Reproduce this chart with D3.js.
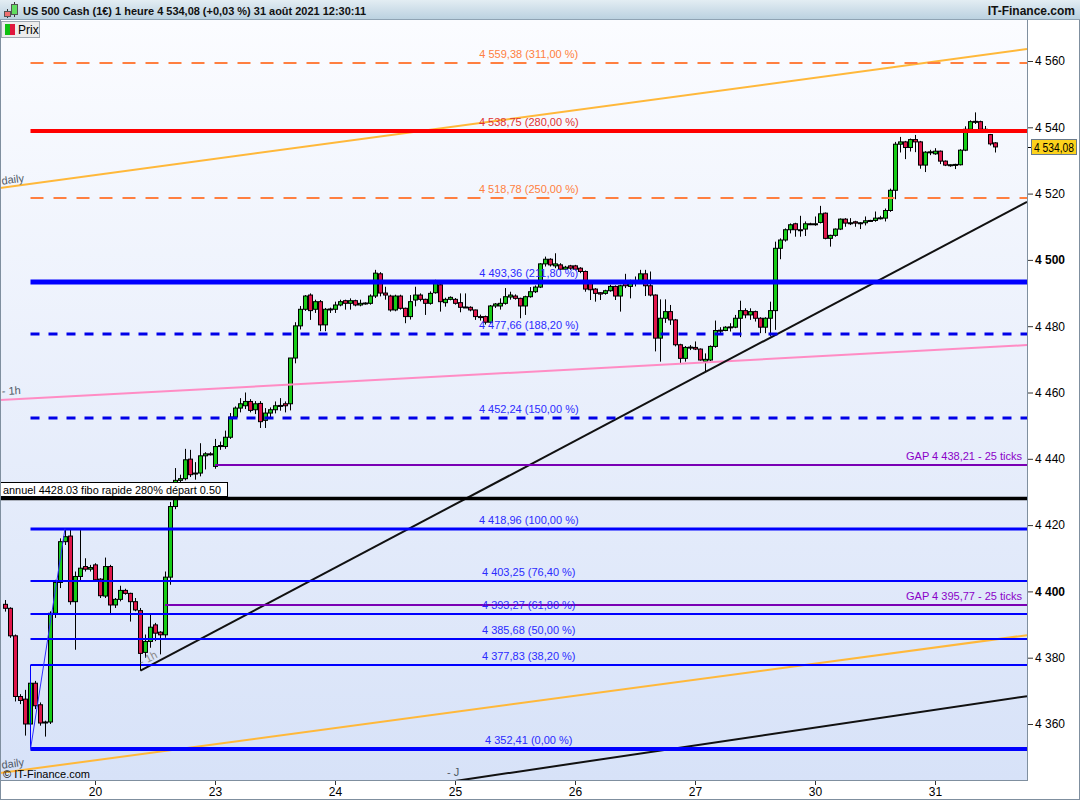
<!DOCTYPE html>
<html><head><meta charset="utf-8">
<script src="https://cdn.jsdelivr.net/npm/d3@7"></script>
<style>body{margin:0;background:#fff;overflow:hidden}svg{display:block;font-family:"Liberation Sans",Arial,sans-serif}</style>
</head><body><svg id="c" width="1080" height="800"></svg>
<script>
// ---------- DATA (hourly candles, US 500 Cash) ----------
const opens=[4396.1,4394.9,4386.6,4368.3,4367.5,4360.0,4372.3,4365.8,4360.3,4360.6,4393.4,4402.7,4415.0,4416.7,4396.9,4404.5,4407.5,4406.7,4408.0,4403.7,
4398.6,4407.5,4395.9,4397.6,4400.3,4399.4,4396.9,4394.2,4381.6,4384.9,4389.9,4387.7,4386.9,4404.3,4425.6,4433.5,4434.0,4439.9,4435.5,4435.7,
4440.9,4441.5,4437.7,4443.7,4443.7,4446.5,4452.6,4455.3,4456.0,4457.3,4454.8,4456.7,4451.6,4453.8,4454.8,4456.0,4456.6,4456.6,4470.4,4480.1,
4485.1,4489.4,4485.1,4487.4,4480.4,4485.1,4485.1,4486.4,4487.7,4486.9,4487.7,4486.4,4486.9,4486.9,4489.1,4495.8,4490.0,4489.1,4484.9,4489.1,
4485.4,4482.9,4487.9,4489.4,4488.1,4486.9,4490.1,4492.5,4487.1,4488.1,4488.1,4487.1,4485.7,4485.7,4484.9,4482.9,4482.9,4481.2,4486.1,4486.1,
4486.9,4488.8,4489.1,4488.4,4486.1,4488.9,4490.4,4491.8,4498.8,4500.2,4498.2,4498.5,4497.2,4498.2,4498.2,4497.5,4496.5,4493.0,4491.2,4490.1,
4489.9,4490.7,4492.0,4489.1,4493.5,4492.0,4493.5,4493.5,4495.8,4492.2,4489.4,4476.4,4482.4,4484.4,4481.9,4474.4,4470.3,4473.6,4473.6,4473.1,
4469.4,4469.8,4473.9,4478.7,4478.7,4479.7,4479.7,4482.4,4484.7,4483.4,4484.4,4482.4,4479.7,4482.4,4484.7,4503.5,4506.0,4509.1,4510.9,4509.1,
4509.3,4510.9,4510.8,4511.3,4514.1,4506.5,4507.4,4509.3,4512.3,4511.1,4511.5,4511.2,4511.2,4511.8,4511.9,4512.6,4512.6,4514.9,4521.0,4534.9,
4535.6,4533.9,4536.3,4535.6,4528.6,4532.5,4532.0,4532.8,4529.8,4528.6,4528.6,4528.7,4533.1,4539.4,4541.7,4541.7,4539.4,4537.8,4535.3];
const highs=[4397.4,4395.2,4387.0,4369.0,4370.3,4374.3,4373.0,4366.5,4361.0,4394.0,4403.5,4416.0,4419.0,4418.6,4406.0,4418.5,4410.0,4408.0,4408.5,4404.0,
4410.2,4408.0,4398.0,4401.7,4400.8,4399.6,4398.0,4395.0,4387.0,4393.0,4390.5,4388.0,4406.0,4427.0,4437.2,4435.2,4443.0,4442.7,4439.0,4444.7,
4442.0,4442.0,4446.0,4445.2,4448.5,4453.8,4455.8,4458.3,4460.0,4458.0,4457.4,4457.4,4455.3,4455.5,4457.3,4458.3,4457.3,4470.4,4481.2,4486.1,
4489.4,4489.9,4488.0,4487.9,4485.5,4485.6,4487.4,4488.0,4488.0,4488.4,4488.0,4488.0,4487.2,4489.6,4497.0,4496.3,4491.9,4489.5,4489.5,4489.5,
4485.6,4489.4,4491.9,4489.9,4488.3,4490.5,4494.0,4493.0,4488.6,4489.0,4488.5,4489.9,4489.9,4486.0,4485.0,4483.5,4483.2,4486.4,4487.0,4488.4,
4491.5,4490.4,4489.6,4488.6,4489.2,4491.8,4492.3,4499.0,4501.0,4500.5,4502.0,4499.0,4498.2,4498.5,4498.5,4497.8,4496.8,4493.3,4491.5,4490.3,
4491.0,4492.5,4492.3,4492.5,4495.8,4494.0,4495.0,4497.0,4497.0,4496.5,4489.6,4488.1,4488.1,4486.4,4482.2,4474.7,4474.0,4474.3,4475.4,4473.3,
4471.8,4474.2,4481.7,4479.7,4480.0,4480.9,4483.4,4487.7,4485.4,4485.4,4484.7,4482.7,4482.7,4487.4,4505.5,4506.5,4509.5,4511.0,4511.2,4513.3,
4511.6,4511.2,4513.1,4516.3,4514.3,4507.6,4509.5,4512.5,4512.6,4512.6,4511.8,4511.4,4513.1,4512.1,4514.6,4513.3,4515.5,4521.5,4535.6,4537.1,
4535.9,4536.6,4537.7,4535.9,4532.8,4533.2,4533.7,4533.0,4530.0,4528.8,4529.0,4533.4,4540.3,4542.1,4544.5,4542.0,4540.4,4538.0,4535.5];
const lows=[4393.9,4386.0,4366.8,4366.0,4356.5,4352.4,4364.5,4359.5,4356.2,4360.0,4392.0,4401.0,4414.0,4396.0,4382.4,4403.0,4406.0,4406.0,4403.0,4398.0,
4398.0,4392.9,4395.0,4397.0,4399.0,4390.9,4394.0,4378.3,4380.0,4383.0,4385.0,4381.0,4386.0,4402.0,4424.8,4431.5,4433.5,4434.5,4433.7,4434.7,
4436.8,4441.0,4437.0,4442.7,4443.0,4446.0,4452.0,4454.0,4455.0,4454.0,4453.5,4449.3,4449.3,4452.0,4453.7,4454.5,4454.0,4454.6,4468.8,4479.0,
4484.6,4481.9,4484.0,4478.5,4478.5,4484.0,4484.0,4486.0,4485.0,4485.0,4486.0,4486.0,4486.5,4486.5,4488.5,4489.0,4488.0,4484.4,4484.5,4485.0,
4480.9,4482.0,4486.0,4487.5,4483.4,4486.5,4489.8,4484.4,4485.9,4487.8,4486.5,4484.2,4485.5,4484.5,4481.9,4481.7,4480.5,4480.8,4485.5,4485.0,
4486.5,4488.0,4488.0,4482.4,4483.4,4488.6,4490.0,4491.5,4498.0,4498.0,4497.5,4497.0,4497.0,4497.0,4496.8,4496.0,4490.4,4487.9,4487.4,4487.9,
4489.5,4490.4,4487.9,4484.4,4491.5,4488.4,4492.0,4493.0,4489.1,4489.0,4472.4,4469.3,4481.0,4480.4,4473.9,4468.8,4469.3,4472.8,4472.8,4469.6,
4466.3,4469.5,4473.5,4477.9,4478.5,4478.4,4479.4,4476.7,4482.4,4481.9,4481.4,4477.9,4477.9,4476.9,4478.9,4500.2,4505.5,4508.0,4507.0,4507.0,
4507.2,4510.5,4510.3,4511.0,4506.2,4504.0,4507.0,4509.0,4510.0,4510.5,4510.0,4509.3,4510.4,4511.5,4511.5,4512.2,4511.6,4514.5,4518.3,4532.4,
4530.4,4532.7,4532.5,4527.5,4526.5,4531.6,4531.7,4528.9,4528.3,4528.1,4527.4,4528.5,4532.8,4539.0,4541.0,4539.1,4538.4,4534.5,4532.4];
const closes=[4394.9,4386.6,4368.3,4367.1,4360.0,4372.3,4365.5,4360.3,4360.6,4393.4,4402.7,4415.0,4416.5,4396.9,4404.5,4407.0,4406.7,4407.2,4403.5,4398.7,
4407.5,4395.9,4397.6,4400.3,4399.4,4396.9,4394.4,4381.3,4384.9,4389.2,4387.4,4386.9,4404.3,4425.6,4433.5,4434.0,4439.7,4435.2,4435.7,4440.9,
4441.5,4441.4,4443.7,4444.0,4446.5,4452.6,4455.3,4456.6,4457.3,4454.6,4456.6,4451.2,4453.8,4454.8,4456.0,4456.1,4456.0,4470.4,4480.1,4485.1,
4489.1,4484.7,4487.4,4480.4,4485.1,4485.2,4486.4,4487.4,4486.9,4487.7,4486.4,4486.9,4487.0,4489.1,4496.0,4490.0,4489.4,4484.9,4489.1,4485.4,
4482.9,4487.4,4489.4,4488.1,4486.9,4489.9,4493.0,4487.4,4488.1,4488.7,4486.9,4485.7,4485.8,4484.9,4482.9,4482.6,4481.2,4486.1,4486.7,4486.9,
4488.9,4489.4,4488.4,4486.1,4488.9,4490.4,4491.8,4498.8,4500.2,4498.5,4498.8,4497.2,4497.8,4497.5,4497.2,4496.5,4491.2,4491.0,4489.9,4489.7,
4490.7,4492.0,4489.1,4492.2,4492.2,4493.5,4493.4,4495.8,4492.2,4489.4,4476.4,4482.4,4484.4,4481.9,4474.4,4470.3,4473.6,4473.7,4473.1,4469.8,
4470.0,4473.9,4478.7,4478.8,4479.7,4479.8,4482.4,4484.7,4483.4,4484.4,4482.4,4479.7,4482.4,4484.7,4503.5,4506.0,4509.1,4510.6,4509.1,4509.0,
4510.9,4510.8,4510.9,4513.9,4506.5,4507.4,4509.3,4512.3,4511.1,4511.2,4511.1,4511.2,4511.8,4511.9,4512.6,4512.7,4514.9,4521.0,4534.9,4535.6,
4533.9,4536.3,4535.6,4528.6,4532.5,4532.6,4532.8,4529.8,4528.6,4528.7,4528.8,4533.1,4539.4,4541.7,4541.8,4539.4,4539.3,4535.0,4534.08];

const dayTickIndex=[18,42,66,90,114,138,162,186];
const dayTickLabels=["20","23","24","25","26","27","30","31"];
const priceTicks=[4360,4380,4400,4420,4440,4460,4480,4500,4520,4540,4560];

// Fibonacci levels (start at candle 5, the swing low)
const fibLevels=[4559.38,4538.75,4518.78,4493.36,4477.66,4452.24,4418.96,4403.25,4393.27,4385.68,4377.83,4352.41];
const fibPercents=[311.00,280.00,250.00,211.80,188.20,150.00,100.00,76.40,61.80,50.00,38.20,0.00];
const fibStartIndex=5, fibHighIndex=12;
// gaps
const gapLevels=[4438.21,4395.77];
const gapStartIndex=[42,32];
const annualLevel=4428.03;
const annualLabel="annuel 4428.03 fibo rapide 280% départ 0.50";
// trend lines: [candle index, price]
const trendDailyUp=[[-1,4521.7],[204.4,4563.6]];
const trendDailyLow=[[-1,4345.2],[204.4,4386.8]];
const trend1h=[[-1,4457.7],[204.4,4474.3]];
const trendBlack1h=[[27.1,4376.1],[204.4,4517.5]];
const trendJ=[[90,4342.8],[204.4,4368.4]];
const lastPrice=4534.08;

// ---------- DRAW ----------
const svg=d3.select("#c");
const W=1080,H=800, PL=0, PR=1027, PT=20, PB=780;
const x=d3.scaleLinear().domain([0,198]).range([5,995]);
const y=d3.scaleLinear().domain([4360,4560]).range([724,61]);
const loc=d3.formatLocale({decimal:",",thousands:"\u00a0",grouping:[3],currency:["","€"]});
const f2=loc.format(",.2f"), f0=loc.format(",.0f");

const defs=svg.append("defs");
const bg=defs.append("linearGradient").attr("id","bg").attr("x1",0).attr("y1",0).attr("x2",0).attr("y2",1);
bg.append("stop").attr("offset","0%").attr("stop-color","#fbfcff");
bg.append("stop").attr("offset","100%").attr("stop-color","#d7e2f8");
const hd=defs.append("linearGradient").attr("id","hd").attr("x1",0).attr("y1",0).attr("x2",0).attr("y2",1);
hd.append("stop").attr("offset","0%").attr("stop-color","#e3edf3");
hd.append("stop").attr("offset","100%").attr("stop-color","#b9d0df");
defs.append("clipPath").attr("id","clip").append("rect").attr("x",PL).attr("y",PT).attr("width",PR-PL).attr("height",PB-PT);

svg.append("rect").attr("width",W).attr("height",H).attr("fill","#fff");
svg.append("rect").attr("x",PL).attr("y",PT).attr("width",PR-PL).attr("height",PB-PT).attr("fill","url(#bg)");

const plot=svg.append("g").attr("clip-path","url(#clip)");

// candles
const data=opens.map((o,i)=>({i,o,h:highs[i],l:lows[i],c:closes[i]}));
const cg=plot.append("g");
cg.selectAll("line.w").data(data).join("line")
 .attr("x1",d=>Math.round(x(d.i))+0.5).attr("x2",d=>Math.round(x(d.i))+0.5)
 .attr("y1",d=>y(d.h)).attr("y2",d=>y(d.l)).attr("stroke","#000").attr("stroke-width",1);
cg.selectAll("rect").data(data).join("rect")
 .attr("x",d=>Math.round(x(d.i))-1.5).attr("width",4)
 .attr("y",d=>y(Math.max(d.o,d.c))).attr("height",d=>Math.max(1,Math.abs(y(d.o)-y(d.c))))
 .attr("fill",d=>d.c>=d.o?"#16cc16":"#e0164a").attr("stroke","#000").attr("stroke-width",1);

// trend lines
function tline(pts,color,w){
  plot.append("line").attr("x1",x(pts[0][0])).attr("y1",y(pts[0][1])).attr("x2",x(pts[1][0])).attr("y2",y(pts[1][1]))
   .attr("stroke",color).attr("stroke-width",w);
}
tline(trendDailyUp,"#ffb83a",2);
tline(trendDailyLow,"#ffb83a",2);
tline(trend1h,"#ff8cc4",2);
tline(trendBlack1h,"#111",2);
tline(trendJ,"#111",2);

// fib lines
const fibStyle=[
 {c:"#ff7f40",w:2,dash:"13,10",lc:"#ff7f40"},
 {c:"#ff0000",w:4,dash:null,lc:"#e03232"},
 {c:"#ff7f40",w:2,dash:"13,10",lc:"#ff7f40"},
 {c:"#0000ff",w:5,dash:null,lc:"#2b2bff"},
 {c:"#0000e8",w:3,dash:"9,9",lc:"#2b2bff"},
 {c:"#0000e8",w:3,dash:"9,9",lc:"#2b2bff"},
 {c:"#0000ff",w:3,dash:null,lc:"#2b2bff"},
 {c:"#0000ff",w:2,dash:null,lc:"#2b2bff"},
 {c:"#0000ff",w:2,dash:null,lc:"#2b2bff"},
 {c:"#0000ff",w:2,dash:null,lc:"#2b2bff"},
 {c:"#0000ff",w:2,dash:null,lc:"#2b2bff"},
 {c:"#0000ff",w:4,dash:null,lc:"#2b2bff"}];
const fx0=x(fibStartIndex)+0.5;
// gap lines
gapLevels.forEach((g,k)=>{
  plot.append("line").attr("x1",x(gapStartIndex[k])).attr("x2",PR).attr("y1",Math.round(y(g))).attr("y2",Math.round(y(g)))
   .attr("stroke","#7a00b4").attr("stroke-width",2);
  svg.append("text").attr("x",PR-5).attr("y",Math.round(y(g))-5).attr("text-anchor","end").attr("font-size",11)
   .attr("fill","#8a00c8").text("GAP "+f2(g)+" - 25 ticks");
});
// annual line
plot.append("line").attr("x1",PL).attr("x2",PR).attr("y1",y(annualLevel)).attr("y2",y(annualLevel)).attr("stroke","#000").attr("stroke-width",3.5);

fibLevels.forEach((v,k)=>{
  const s=fibStyle[k], yy=Math.round(y(v));
  plot.append("line").attr("x1",fx0).attr("x2",PR).attr("y1",yy).attr("y2",yy)
    .attr("stroke",s.c).attr("stroke-width",s.w).attr("stroke-dasharray",s.dash);
  svg.append("text").attr("x",(fx0+PR)/2).attr("y",yy-5).attr("text-anchor","middle").attr("font-size",11)
    .attr("fill",s.lc).text(f2(v)+" ("+f2(fibPercents[k])+" %)");
});
// fib vertical + diagonal
plot.append("line").attr("x1",fx0).attr("x2",fx0).attr("y1",y(fibLevels[10])).attr("y2",y(fibLevels[11])).attr("stroke","#0000ff").attr("stroke-width",1);
plot.append("line").attr("x1",fx0).attr("y1",y(fibLevels[11])).attr("x2",x(fibHighIndex)).attr("y2",y(fibLevels[6])).attr("stroke","#3030ff").attr("stroke-width",1);
// short black tick at start of 1h line
plot.append("line").attr("x1",x(trendBlack1h[0][0])).attr("x2",x(trendBlack1h[0][0])).attr("y1",y(trendBlack1h[0][1])).attr("y2",y(trendBlack1h[0][1])-9).attr("stroke","#000").attr("stroke-width",1);

// annual label box
svg.append("rect").attr("x",0.5).attr("y",482.5).attr("width",227).attr("height",14).attr("fill","#fff").attr("stroke","#000");
svg.append("text").attr("x",3).attr("y",494).attr("font-size",11).attr("textLength",218).attr("lengthAdjust","spacingAndGlyphs").attr("fill","#000").text(annualLabel);

// trend labels
function rotLabel(txt,pts,xpix,dy,color){
  const a=Math.atan2(y(pts[1][1])-y(pts[0][1]),x(pts[1][0])-x(pts[0][0]))*180/Math.PI;
  const yy=y(pts[0][1])+(y(pts[1][1])-y(pts[0][1]))*(xpix-x(pts[0][0]))/(x(pts[1][0])-x(pts[0][0]));
  svg.append("text").attr("transform",`translate(${xpix},${yy+dy}) rotate(${a})`).attr("font-size",11).attr("fill",color).text(txt);
}
rotLabel("daily",trendDailyUp,2,-3,"#505a66");
rotLabel("- 1h",trend1h,2,-5,"#505a66");
rotLabel("daily",trendDailyLow,2,-4,"#505a66");
rotLabel("- 1h",trendBlack1h,x(trendBlack1h[0][0])+1,-4,"#8a8a8a");
svg.append("text").attr("x",447).attr("y",776).attr("font-size",11).attr("fill","#505a66").text("- J");
svg.append("text").attr("x",3).attr("y",778).attr("font-size",11).attr("fill","#000").text("© IT-Finance.com");

// borders
svg.append("line").attr("x1",PR+0.5).attr("x2",PR+0.5).attr("y1",PT).attr("y2",PB+1).attr("stroke","#7f8f9f");
svg.append("line").attr("x1",0).attr("x2",PR+1).attr("y1",PB+0.5).attr("y2",PB+0.5).attr("stroke","#7f8f9f");
svg.append("rect").attr("x",0.5).attr("y",0.5).attr("width",W-1).attr("height",H-1).attr("fill","none").attr("stroke","#7f8f9f");

// price axis
const ay=svg.append("g").attr("transform",`translate(${PR+1},0)`);
const yAxis=d3.axisRight(y).tickValues(priceTicks).tickSize(5).tickPadding(2).tickFormat(d=>f0(d));
ay.call(yAxis);
ay.select(".domain").remove();
ay.selectAll(".tick text").attr("font-size",12).attr("font-family","Liberation Sans, Arial, sans-serif").attr("fill","#000")
  .attr("font-weight",d=>(d%100===0)?"bold":"normal");
ay.selectAll(".tick line").attr("stroke","#333");
// last price box
const ly=Math.round(y(lastPrice));
svg.append("line").attr("x1",PR+1).attr("x2",PR+5).attr("y1",ly+0.5).attr("y2",ly+0.5).attr("stroke","#000");
svg.append("rect").attr("x",PR+4.5).attr("y",ly-7.5).attr("width",45).attr("height",15).attr("fill","#fcd21c").attr("stroke","#6a7a8a");
svg.append("text").attr("x",PR+7).attr("y",ly+4.5).attr("font-size",12).attr("textLength",40).attr("lengthAdjust","spacingAndGlyphs").attr("fill","#000").text(f2(lastPrice));

// time axis
const ax=svg.append("g").attr("transform",`translate(0,${PB+1})`);
const xAxis=d3.axisBottom(x).tickValues(dayTickIndex).tickSize(4).tickPadding(2).tickFormat((d,k)=>dayTickLabels[k]);
ax.call(xAxis);
ax.select(".domain").remove();
ax.selectAll(".tick text").attr("font-size",12).attr("font-family","Liberation Sans, Arial, sans-serif").attr("fill","#000");
ax.selectAll(".tick line").attr("stroke","#333");

// header
svg.append("rect").attr("x",0).attr("y",0).attr("width",W).attr("height",20).attr("fill","url(#hd)");
svg.append("line").attr("x1",0).attr("x2",W).attr("y1",19.5).attr("y2",19.5).attr("stroke","#8fa3b3");
// header icon
svg.append("line").attr("x1",7.5).attr("x2",7.5).attr("y1",9).attr("y2",18).attr("stroke","#333");
svg.append("rect").attr("x",4.5).attr("y",11.5).attr("width",6).attr("height",5).attr("fill","#f07070").attr("stroke","#555");
svg.append("line").attr("x1",14.5).attr("x2",14.5).attr("y1",2).attr("y2",17).attr("stroke","#333");
svg.append("rect").attr("x",11.5).attr("y",4.5).attr("width",6).attr("height",10).attr("fill","#60dd60").attr("stroke","#555");
svg.append("text").attr("x",23).attr("y",15).attr("font-size",11.5).attr("font-weight","bold").attr("fill","#111")
  .attr("textLength",343).attr("lengthAdjust","spacingAndGlyphs")
  .text("US 500 Cash (1€) 1 heure "+f2(lastPrice)+" (+0,03 %) 31 août 2021 12:30:11");
svg.append("text").attr("x",1075).attr("y",15).attr("text-anchor","end").attr("font-size",12).attr("font-weight","bold").attr("fill","#111").text("IT-Finance.com");
// legend
svg.append("rect").attr("x",1.5).attr("y",21.5).attr("width",38).attr("height",16).attr("fill","#ececec").attr("stroke","#a0a8b0");
svg.append("rect").attr("x",5).attr("y",24).attr("width",5).attr("height",11).attr("fill","#10c010");
svg.append("rect").attr("x",10).attr("y",24).attr("width",5).attr("height",11).attr("fill","#e0163c");
svg.append("text").attr("x",18).attr("y",34).attr("font-size",12).attr("fill","#000").text("Prix");
</script></body></html>
